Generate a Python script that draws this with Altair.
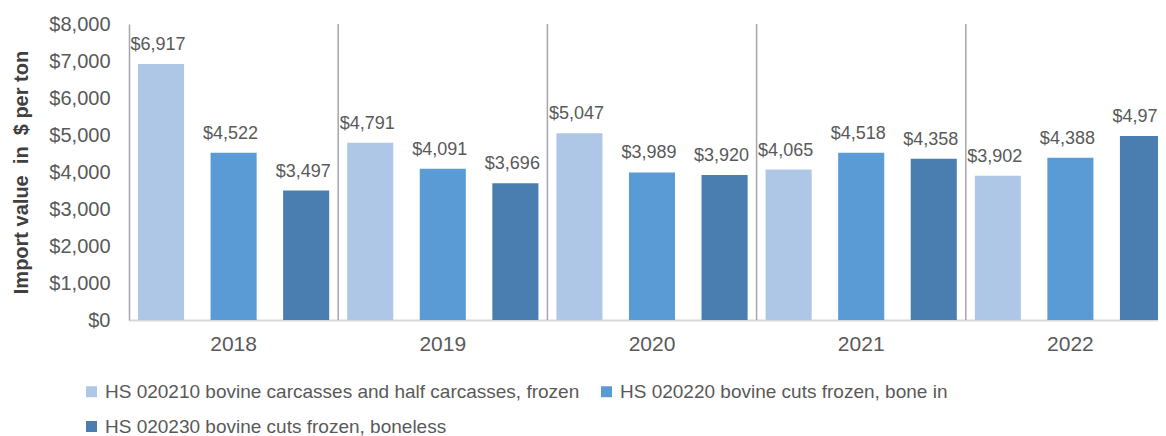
import altair as alt
import pandas as pd

years = ["2018", "2019", "2020", "2021", "2022"]
series = [
    "HS 020210 bovine carcasses and half carcasses, frozen",
    "HS 020220 bovine cuts frozen, bone in",
    "HS 020230 bovine cuts frozen, boneless",
]
carcasses = [6917, 4791, 5047, 4065, 3902]
bone_in = [4522, 4091, 3989, 4518, 4388]
boneless = [3497, 3696, 3920, 4358, 4973]
colors = ["#AEC7E6", "#5B9BD5", "#4A7EB0"]
y_ticks = [0, 1000, 2000, 3000, 4000, 5000, 6000, 7000, 8000]

rows = []
for i, yr in enumerate(years):
    for s, vals in zip(series, [carcasses, bone_in, boneless]):
        rows.append({"year": yr, "series": s, "value": vals[i]})
df = pd.DataFrame(rows)

sep = pd.DataFrame({"year": years[1:], "value": [0] * 4, "hi": [8000] * 4})

FONT = "Liberation Sans"
GRAY = "#595959"

xscale = alt.Scale(domain=years, paddingInner=0, paddingOuter=0)
yscale = alt.Scale(domain=[0, 8000], nice=False)
xo = alt.XOffset("series:N", sort=series,
                 scale=alt.Scale(domain=series, paddingInner=0.365, paddingOuter=0.124))

x_axis = alt.Axis(title=None, labelAngle=0, labelFontSize=21, labelColor=GRAY,
                  labelPadding=13, ticks=False, domainColor="#D9D9D9",
                  domainWidth=2, grid=False)
y_axis = alt.Axis(values=y_ticks, format="$,.0f", labelFontSize=20, labelColor=GRAY,
                  labelPadding=19, ticks=False, grid=False, domainColor="#A6A6A6",
                  domainWidth=1.5, title="Import value\u00a0 in\u00a0 $ per ton",
                  titleFontSize=20, titleFontWeight="bold", titleColor="#404040",
                  titlePadding=17)

bars = alt.Chart(df).mark_bar().encode(
    x=alt.X("year:N", scale=xscale, sort=years, axis=x_axis),
    xOffset=xo,
    y=alt.Y("value:Q", scale=yscale, axis=y_axis),
    color=alt.Color("series:N", sort=series,
                    scale=alt.Scale(domain=series, range=colors),
                    legend=alt.Legend(orient="none", legendX=-47, legendY=358, columns=2,
                                      direction="horizontal", title=None, symbolType="square",
                                      symbolSize=121, symbolStrokeWidth=0, labelFontSize=19,
                                      labelColor=GRAY, labelLimit=800, columnPadding=17,
                                      rowPadding=15, labelOffset=4, labelFont=FONT)),
)

labels = alt.Chart(df).mark_text(dy=-14, dx=-3, baseline="alphabetic", fontSize=18,
                                 color=GRAY, font=FONT).encode(
    x=alt.X("year:N", scale=xscale, sort=years, axis=x_axis),
    xOffset=xo,
    y=alt.Y("value:Q", scale=yscale, axis=y_axis),
    text=alt.Text("value:Q", format="$,.0f"),
)

seps = alt.Chart(sep).mark_rule(color="#A6A6A6", strokeWidth=1.5).encode(
    x=alt.X("year:N", scale=xscale, sort=years, bandPosition=0, axis=x_axis),
    y=alt.Y("value:Q", scale=yscale, axis=y_axis),
    y2="hi:Q",
)

chart = alt.layer(bars, seps, labels).properties(
    width=1046,
    height=296,
    autosize=alt.AutoSizeParams(type="none"),
    padding={"left": 121, "top": 16, "right": -17, "bottom": 130},
).configure_view(stroke=None).configure_axis(
    labelFont=FONT, titleFont=FONT
).configure_text(font=FONT)

chart.save("out.html", embed_options={"renderer": "svg", "actions": False})
